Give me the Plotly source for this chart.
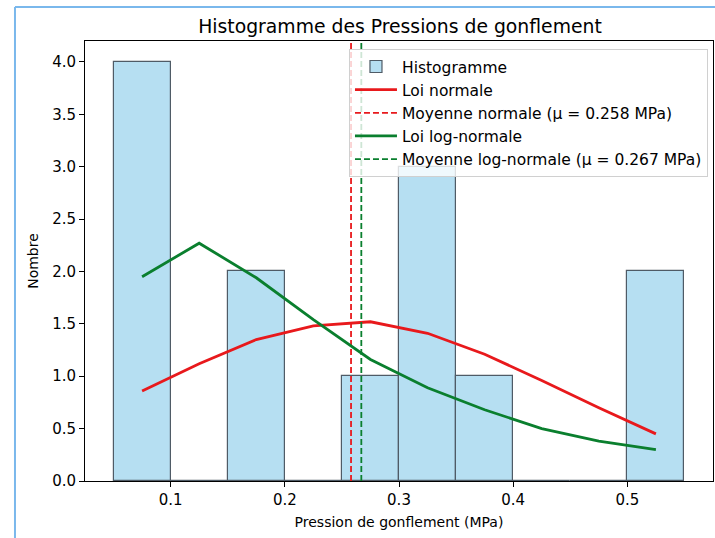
import plotly.graph_objects as go

# Histogram of swelling pressures (bins of 0.05 MPa)
bin_centers = [0.075, 0.125, 0.175, 0.225, 0.275, 0.325, 0.375, 0.425, 0.475, 0.525]
bin_width = 0.05
counts = [4, 0, 2, 0, 1, 3, 1, 0, 0, 2]

# Fitted densities scaled to counts, evaluated at bin centers
normal_fit = [0.86, 1.12, 1.35, 1.48, 1.52, 1.41, 1.21, 0.96, 0.70, 0.45]
lognormal_fit = [1.95, 2.27, 1.94, 1.54, 1.16, 0.89, 0.68, 0.50, 0.38, 0.30]

mean_normal = 0.258
mean_lognormal = 0.267

x_ticks = [0.1, 0.2, 0.3, 0.4, 0.5]
y_ticks = [0.0, 0.5, 1.0, 1.5, 2.0, 2.5, 3.0, 3.5, 4.0]

FONT = "DejaVu Sans"
RED = "#e8191c"
GREEN = "#0a7f2e"

fig = go.Figure()

fig.add_trace(go.Bar(
    x=bin_centers, y=counts, width=bin_width,
    name="Histogramme",
    marker=dict(color="#b6dff2", line=dict(color="#4f5b66", width=1.2)),
))

fig.add_trace(go.Scatter(
    x=bin_centers, y=normal_fit, mode="lines", name="Loi normale",
    line=dict(color=RED, width=2.8),
))
fig.add_trace(go.Scatter(
    x=[mean_normal, mean_normal], y=[0, 4.2], mode="lines",
    name=f"Moyenne normale (\u03bc = {mean_normal:.3f} MPa)",
    line=dict(color=RED, width=1.8, dash="6px,3px"),
))
fig.add_trace(go.Scatter(
    x=bin_centers, y=lognormal_fit, mode="lines", name="Loi log-normale",
    line=dict(color=GREEN, width=2.8),
))
fig.add_trace(go.Scatter(
    x=[mean_lognormal, mean_lognormal], y=[0, 4.2], mode="lines",
    name=f"Moyenne log-normale (\u03bc = {mean_lognormal:.3f} MPa)",
    line=dict(color=GREEN, width=1.8, dash="6px,3px"),
))

axis_common = dict(
    showline=True, linecolor="black", linewidth=1, mirror=True,
    ticks="outside", ticklen=5, tickcolor="black", tickwidth=1,
    showgrid=False, zeroline=False,
    tickfont=dict(family=FONT, size=15, color="black"),
)

fig.update_xaxes(
    range=[0.025, 0.575], tickvals=x_ticks, ticktext=[f"{v:.1f}" for v in x_ticks],
    title=dict(text="Pression de gonflement (MPa)", font=dict(family=FONT, size=14, color="black"), standoff=9),
    **axis_common,
)
fig.update_yaxes(
    range=[0, 4.2], tickvals=y_ticks, ticktext=[f"{v:.1f}" for v in y_ticks],
    title=dict(text="Nombre", font=dict(family=FONT, size=14, color="black"), standoff=10),
    **axis_common,
)

# Light blue frame around the figure
frame_color = "#7ab8ec"
fig.add_shape(type="line", xref="paper", yref="paper",
              x0=-0.1115, x1=-0.1115, y0=1.077, y1=-0.14,
              line=dict(color=frame_color, width=2))
fig.add_shape(type="line", xref="paper", yref="paper",
              x0=-0.1115, x1=1.01, y0=1.077, y1=1.077,
              line=dict(color=frame_color, width=2))

fig.update_layout(
    width=715, height=538,
    margin=dict(l=85, r=2, t=41, b=57),
    paper_bgcolor="white", plot_bgcolor="white",
    font=dict(family=FONT, size=14, color="black"),
    title=dict(text="Histogramme des Pressions de gonflement",
               x=0.5016, xref="paper", xanchor="center",
               y=1 - 26 / 538, yref="container", yanchor="middle",
               font=dict(family=FONT, size=18.8, color="black")),
    showlegend=True,
    legend=dict(
        x=0.992, y=0.982, xanchor="right", yanchor="top",
        bgcolor="rgba(255,255,255,0.8)", bordercolor="#d0d0d0", borderwidth=1,
        font=dict(family=FONT, size=15.5, color="black"),
        tracegroupgap=0, itemwidth=42,
    ),
    bargap=0,
)

fig.write_html("out.html")
